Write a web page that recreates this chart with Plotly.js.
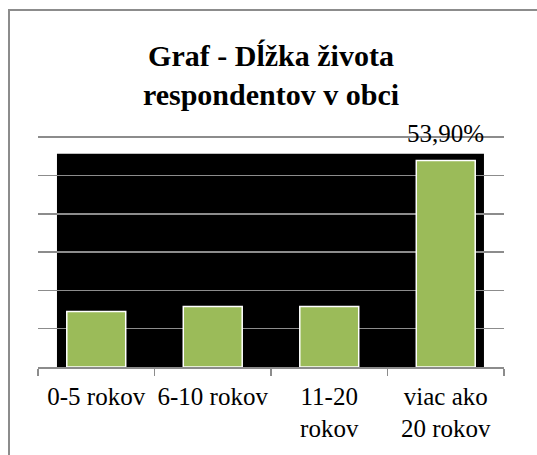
<!DOCTYPE html>
<html>
<head>
<meta charset="utf-8">
<script src="https://cdn.plot.ly/plotly-3.0.1.min.js"></script>
<style>
  body { margin: 0; background: #ffffff; }
  #prime { font-family: 'Liberation Serif', serif; font-size: 24px; color: #000; position: absolute; left: 0; top: 0; }
  #chart { position: absolute; left: 0; top: 0; width: 537px; height: 455px; background: #ffffff; }
  #chart svg text { font-family: 'Liberation Serif', 'Times New Roman', serif !important; }
  #frame { position: absolute; left: 8px; top: 9px; width: 600px; height: 600px;
           border-left: 2px solid #8c8c8c; border-top: 2px solid #8c8c8c; pointer-events: none; }
</style>
</head>
<body>
<div id="prime">Graf <b>Dĺžka</b> rokov 53,90%</div>
<div id="chart"></div>
<div id="frame"></div>
<script>
// Data
const categories = ["0-5 rokov", "6-10 rokov", "11-20<br>rokov", "viac ako<br>20 rokov"];
const values = [14.5, 15.8, 15.8, 53.9];
const labeledIndex = [3];
const yTicks = [0, 10, 20, 30, 40, 50, 60];
const titleLines = ["Graf - Dĺžka života", "respondentov v obci"];

const FONT = "Liberation Serif";

const annotations = labeledIndex.map(i => ({
  x: categories[i],
  y: values[i],
  xref: "x",
  yref: "y",
  text: values[i].toFixed(2).replace(".", ",") + "%",
  showarrow: false,
  yanchor: "bottom",
  yshift: 12,
  font: { family: FONT, size: 25, color: "#000000" }
}));

const layout = {
  width: 537,
  height: 455,
  margin: { l: 38, r: 33, t: 136, b: 88, pad: 0 },
  paper_bgcolor: "#ffffff",
  plot_bgcolor: "rgba(0,0,0,0)",
  showlegend: false,
  bargap: 0.494,
  font: { family: FONT, color: "#000000" },
  title: {
    text: titleLines.map(t => "<b>" + t + "</b>").join("<br>"),
    font: { family: FONT, size: 30, color: "#000000" },
    x: 0.5,
    xref: "paper",
    y: 1 - 66 / 455,
    yref: "container",
    yanchor: "middle"
  },
  xaxis: {
    type: "category",
    range: [-0.5, 3.5],
    showgrid: false,
    showline: true,
    linecolor: "#8c8c8c",
    linewidth: 1.5,
    ticks: "outside",
    tickson: "boundaries",
    ticklen: 7,
    tickwidth: 1.5,
    tickcolor: "#8c8c8c",
    tickangle: 0,
    tickfont: { family: FONT, size: 25, color: "#000000" },
    ticklabelstandoff: 6,
    fixedrange: true
  },
  yaxis: {
    range: [0, 60.3],
    tickvals: yTicks,
    showticklabels: false,
    showgrid: true,
    gridcolor: "#8c8c8c",
    gridwidth: 1.5,
    zeroline: false,
    showline: false,
    ticks: "",
    fixedrange: true
  },
  shapes: [{
    type: "rect",
    xref: "paper",
    yref: "paper",
    x0: 0.0407,
    x1: 0.957,
    y0: -0.004,
    y1: 0.923,
    fillcolor: "#000000",
    line: { width: 0 },
    layer: "between"
  }],
  annotations: annotations
};

Plotly.newPlot("chart", [{
  type: "bar",
  x: categories,
  y: values,
  marker: { color: "#9BBB59", line: { color: "#ffffff", width: 1.5 } },
  hoverinfo: "skip"
}], layout, { staticPlot: true });
</script>
</body>
</html>
